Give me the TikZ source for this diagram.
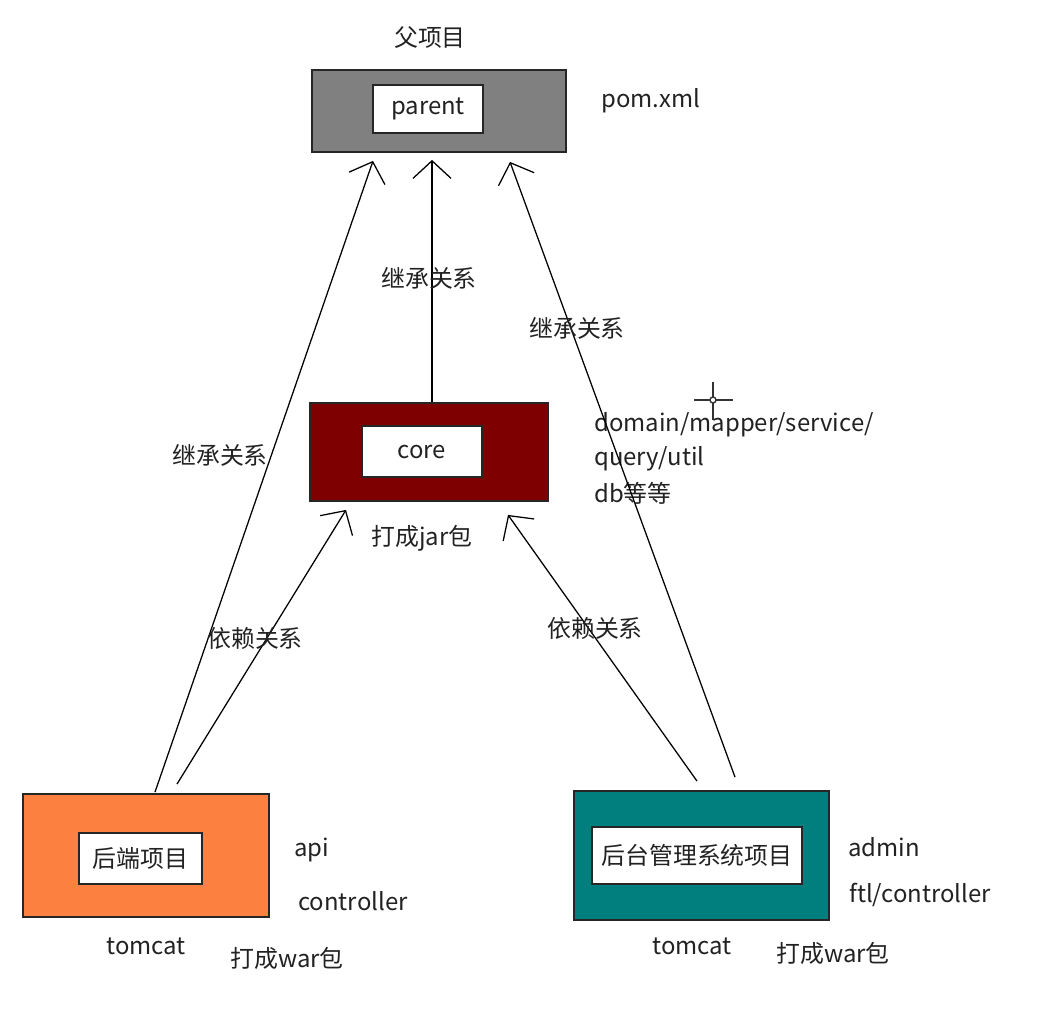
\documentclass[tikz,border=0pt]{standalone}
\usepackage{fontspec}
\setmainfont{Noto Sans CJK SC}
\usetikzlibrary{arrows.meta,calc}
\definecolor{txt}{HTML}{222222}
\definecolor{pgray}{HTML}{808080}
\definecolor{cmaroon}{HTML}{7F0000}
\definecolor{borange}{HTML}{FC8040}
\definecolor{rteal}{HTML}{007F7F}
\begin{document}
\begin{tikzpicture}[x=0.025cm,y=-0.025cm,
  innerbox/.style={draw=black!85,fill=white,line width=1.3pt,inner sep=0pt},
  lbl/.style={text=txt,font=\fontsize{17}{20}\selectfont,inner sep=0pt},
  rel/.style={draw=black,line width=0.9pt,-{Straight Barb[length=12.5pt,width=27pt]}}]
\useasboundingbox (0,0) rectangle (1048,1034);
% parent
\node[draw=black!85,line width=1.3pt,fill=pgray,minimum width=254*0.025cm,minimum height=82*0.025cm,inner sep=0pt] (pp) at (439,111) {};
\node[innerbox,minimum width=110*0.025cm,minimum height=48*0.025cm,lbl] (pin) at (428,109) {parent};
\node[lbl] (ftitle) at (430,38) {父项目};
\node[lbl,anchor=west] (pom) at (601,101) {pom.xml};
% core
\node[draw=black!85,line width=1.3pt,fill=cmaroon,minimum width=238*0.025cm,minimum height=98*0.025cm,inner sep=0pt] (co) at (429,452) {};
\node[innerbox,minimum width=120*0.025cm,minimum height=51*0.025cm,lbl] (cin) at (422,451.5) {core};
\node[lbl,anchor=west] (d1) at (594,425) {domain/mapper/service/};
\node[lbl,anchor=west] (d2) at (594,459) {query/util};
\node[lbl,anchor=west] (d3) at (594,493) {db等等};
\node[lbl] (jar) at (422,538) {打成jar包};
% left bottom
\node[draw=black!85,line width=1.3pt,fill=borange,minimum width=246*0.025cm,minimum height=123*0.025cm,inner sep=0pt] (lb) at (146,855.5) {};
\node[innerbox,minimum width=123*0.025cm,minimum height=51*0.025cm,lbl] (lin) at (140.5,858.5) {后端项目};
\node[lbl,anchor=west] (api) at (294,850) {api};
\node[lbl,anchor=west] (ctl) at (298,901) {controller};
\node[lbl] (tc1) at (146,946) {tomcat};
\node[lbl] (war1) at (287,958) {打成war包};
% right bottom
\node[draw=black!85,line width=1.3pt,fill=rteal,minimum width=255*0.025cm,minimum height=129*0.025cm,inner sep=0pt] (rb) at (701.5,855.5) {};
\node[innerbox,minimum width=210*0.025cm,minimum height=57*0.025cm,lbl] (rin) at (697,855.5) {后台管理系统项目};
\node[lbl,anchor=west] (adm) at (848,847) {admin};
\node[lbl,anchor=west] (ftl) at (849,895) {ftl/controller};
\node[lbl] (tc2) at (692,946) {tomcat};
\node[lbl] (war2) at (833,953) {打成war包};
% connectors
\draw[rel] ($(co.north)+(3,0)$) -- ($(pp.south)+(-7,7)$);
\draw[rel] ($(lb.north)+(9,-1)$) -- ($(pp.south)+(-66,8)$);
\draw[rel] ($(rb.north)+(33.5,-13)$) -- ($(pp.south)+(71,9)$);
\draw[rel] ($(lb.north)+(31,-9)$) -- ($(co.south)+(-83,8)$);
\draw[rel] ($(rb.north)+(-4.5,-9)$) -- ($(co.south)+(79,13)$);
% labels
\node[lbl] (inh1) at (429,278) {继承关系};
\node[lbl] (inh2) at (577,328) {继承关系};
\node[lbl] (inh3) at (220,455) {继承关系};
\node[lbl] (dep1) at (255,638) {依赖关系};
\node[lbl] (dep2) at (595,628) {依赖关系};
% cursor crosshair
\coordinate (cur) at (713,400);
\draw[line width=1.2pt,black!80] ($(cur)+(-19,0)$) -- ($(cur)+(20,0)$);
\draw[line width=1.2pt,black!80] ($(cur)+(0,-18)$) -- ($(cur)+(0,20)$);
\draw[line width=1pt,black!80,fill=white] (cur) circle (3*0.025cm);
\end{tikzpicture}
\end{document}
